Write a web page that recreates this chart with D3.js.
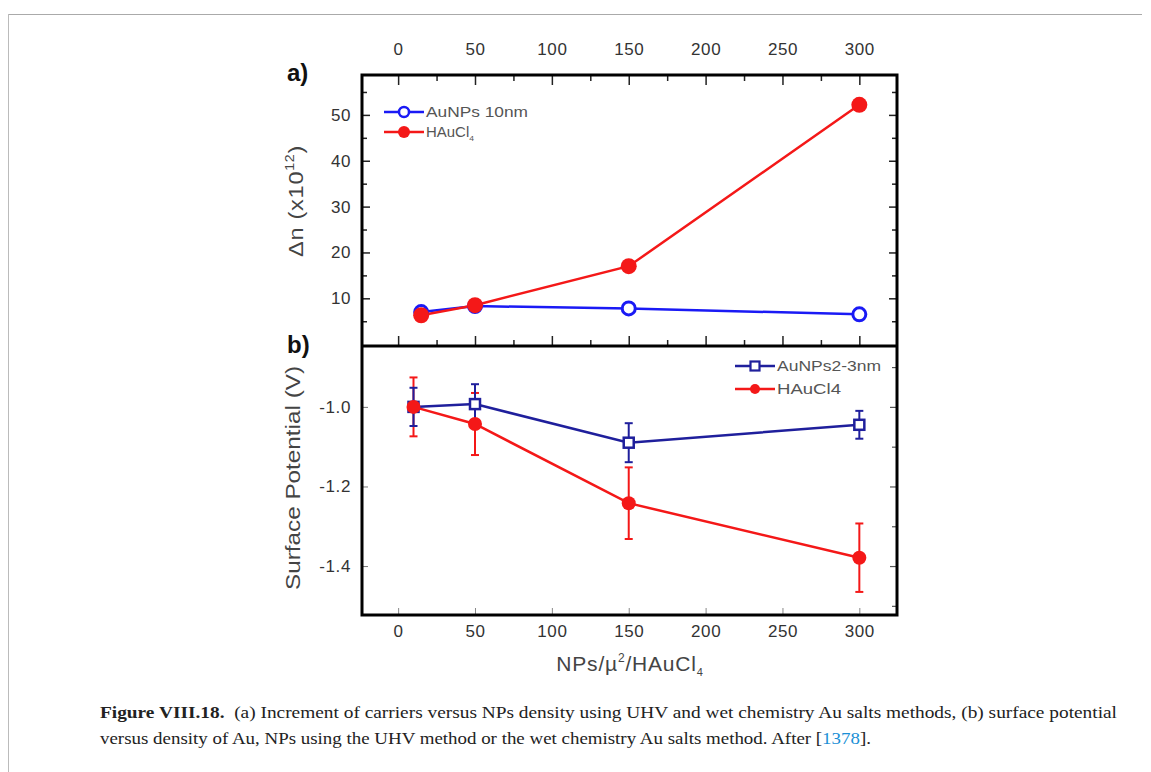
<!DOCTYPE html>
<html><head><meta charset="utf-8">
<script src="https://cdn.jsdelivr.net/npm/d3@7/dist/d3.min.js"></script>
<style>body{margin:0;background:#fff}svg{display:block}</style>
</head><body>
<svg id="c" width="1151" height="772"></svg>
<script>
// ---- data ----
const xTop = [15, 50, 150, 300];
const auNP10 = [7.0, 8.3, 7.8, 6.5];
const hauTop = [6.3, 8.5, 17.0, 52.2];
const xBot = [10, 50, 150, 300];
const auNP23 = [-1.0, -0.993, -1.09, -1.045];
const auNP23Err = [0.048, 0.05, 0.049, 0.035];
const hauBot = [-1.0, -1.043, -1.242, -1.379];
const hauBotErr = [0.074, 0.078, 0.09, 0.086];
const xTicks = [0, 50, 100, 150, 200, 250, 300];
const yTopTicks = [10, 20, 30, 40, 50];
const yBotTicks = [-1.0, -1.2, -1.4];

const svg = d3.select("#c");
const L = 362, R = 897, T = 75, M = 346, B = 615;
const x = d3.scaleLinear().domain([-23.5, 324.5]).range([L, R]);
const yT = d3.scaleLinear().domain([-0.4, 58.7]).range([M, T]);
const yB = d3.scaleLinear().domain([-1.523, -0.847]).range([B, M]);
const font = "Liberation Sans, Arial, sans-serif";
const blueT = "#1a1af5", blueB = "#1f1f9c", red = "#f41818", tc = "#333";

// outer page frame
svg.append("line").attr("x1", 8).attr("x2", 1142).attr("y1", 14.5).attr("y2", 14.5).attr("stroke", "#aaa");
svg.append("line").attr("x1", 8.5).attr("x2", 8.5).attr("y1", 14).attr("y2", 772).attr("stroke", "#bbb");

function ax(gen, tx, ty) {
  const g = svg.append("g").attr("transform", `translate(${tx},${ty})`).call(gen);
  g.select(".domain").remove();
  g.selectAll("text").attr("font-family", font).attr("font-size", 17).attr("letter-spacing", 0.6).attr("fill", tc);
  g.selectAll("line").attr("stroke", "#222").attr("stroke-width", 1.5);
  return g;
}
const minorX = d3.range(-25, 326, 25).filter(v => v > -23 && v < 324 && v % 50 !== 0);
ax(d3.axisTop(x).tickValues(xTicks).tickSize(-10).tickPadding(20).tickFormat(d3.format("d")), 0, T);
ax(d3.axisTop(x).tickValues(minorX).tickSize(-6).tickFormat(""), 0, T);
ax(d3.axisTop(x).tickValues(xTicks).tickSize(10).tickFormat(""), 0, M);
ax(d3.axisTop(x).tickValues(minorX).tickSize(6).tickFormat(""), 0, M);
const gb = ax(d3.axisBottom(x).tickValues(xTicks).tickSize(-7).tickPadding(10).tickFormat(d3.format("d")), 0, B);
gb.selectAll("line").attr("stroke", "#888").attr("stroke-width", 1);
const minorYT = [5, 15, 25, 35, 45, 55];
ax(d3.axisLeft(yT).tickValues(yTopTicks).tickSize(-8).tickPadding(11).tickFormat(d3.format("d")), L, 0);
ax(d3.axisLeft(yT).tickValues(minorYT).tickSize(-5).tickFormat(""), L, 0);
ax(d3.axisRight(yT).tickValues(yTopTicks).tickSize(-8).tickFormat(""), R, 0);
ax(d3.axisRight(yT).tickValues(minorYT).tickSize(-5).tickFormat(""), R, 0);
ax(d3.axisLeft(yB).tickValues(yBotTicks).tickSize(-6).tickPadding(11).tickFormat(d3.format(".1f")), L, 0)
  .selectAll("line").attr("stroke", "#777").attr("stroke-width", 1);
const minorYB = [-0.9, -1.1, -1.3, -1.5];
ax(d3.axisRight(yB).tickValues(yBotTicks).tickSize(-7).tickFormat(""), R, 0).selectAll("line").attr("stroke", "#555").attr("stroke-width", 1.2);
ax(d3.axisRight(yB).tickValues(minorYB).tickSize(-5).tickFormat(""), R, 0).selectAll("line").attr("stroke", "#555").attr("stroke-width", 1.2);
svg.selectAll("text").each(function(){ const t=d3.select(this); t.text(t.text().replace("\u2212","-")); });

// frames
const fr = svg.append("g").attr("fill", "none").attr("stroke", "#000").attr("stroke-width", 3);
fr.append("rect").attr("x", L).attr("y", T).attr("width", R - L).attr("height", B - T);
fr.append("line").attr("x1", L).attr("x2", R).attr("y1", M).attr("y2", M);

// ---- top panel data ----
const lineT = d3.line().x(d => x(d[0])).y(d => yT(d[1]));
const lineB = d3.line().x(d => x(d[0])).y(d => yB(d[1]));
const topBlue = xTop.map((v, i) => [v, auNP10[i]]);
const topRed = xTop.map((v, i) => [v, hauTop[i]]);
svg.append("path").attr("d", lineT(topBlue)).attr("fill", "none").attr("stroke", blueT).attr("stroke-width", 2.5);
svg.append("path").attr("d", lineT(topRed)).attr("fill", "none").attr("stroke", red).attr("stroke-width", 2.5);
svg.selectAll(".cb").data(topBlue).join("circle").attr("cx", d => x(d[0])).attr("cy", d => yT(d[1]))
  .attr("r", 6.5).attr("fill", "#fff").attr("stroke", blueT).attr("stroke-width", 3);
svg.selectAll(".cr").data(topRed).join("circle").attr("cx", d => x(d[0])).attr("cy", d => yT(d[1]))
  .attr("r", 8).attr("fill", red);

// ---- bottom panel data ----
const botBlue = xBot.map((v, i) => [v, auNP23[i], auNP23Err[i]]);
const botRed = xBot.map((v, i) => [v, hauBot[i], hauBotErr[i]]);
function errBars(data, col, w) {
  const g = svg.append("g").attr("stroke", col).attr("stroke-width", 2);
  data.forEach(d => {
    const cx = x(d[0]), y1 = yB(d[1] + d[2]), y2 = yB(d[1] - d[2]);
    g.append("line").attr("x1", cx).attr("x2", cx).attr("y1", y1).attr("y2", y2);
    g.append("line").attr("x1", cx - w).attr("x2", cx + w).attr("y1", y1).attr("y2", y1);
    g.append("line").attr("x1", cx - w).attr("x2", cx + w).attr("y1", y2).attr("y2", y2);
  });
}
svg.append("path").attr("d", lineB(botRed)).attr("fill", "none").attr("stroke", red).attr("stroke-width", 2.5);
errBars(botRed, red, 4);
svg.append("path").attr("d", lineB(botBlue)).attr("fill", "none").attr("stroke", blueB).attr("stroke-width", 2.5);
errBars(botBlue, blueB, 4);
svg.selectAll(".sb").data(botBlue).join("rect").attr("x", d => x(d[0]) - 5).attr("y", d => yB(d[1]) - 5)
  .attr("width", 10).attr("height", 10).attr("fill", "#fff").attr("stroke", blueB).attr("stroke-width", 2.5);
svg.selectAll(".sr").data(botRed).join("circle").attr("cx", d => x(d[0])).attr("cy", d => yB(d[1]))
  .attr("r", 7).attr("fill", red);

// ---- legends ----
function legend(lx, ly, col, marker, label, sub, len) {
  svg.append("line").attr("x1", lx).attr("x2", lx + 40).attr("y1", ly).attr("y2", ly).attr("stroke", col).attr("stroke-width", 2.5);
  const cx = lx + 20;
  if (marker === "open") svg.append("circle").attr("cx", cx).attr("cy", ly).attr("r", 5).attr("fill", "#fff").attr("stroke", col).attr("stroke-width", 2.5);
  if (marker === "fill") svg.append("circle").attr("cx", cx).attr("cy", ly).attr("r", 6).attr("fill", col);
  if (marker === "fillS") svg.append("circle").attr("cx", cx).attr("cy", ly).attr("r", 5).attr("fill", col);
  if (marker === "sq") svg.append("rect").attr("x", cx - 4.5).attr("y", ly - 4.5).attr("width", 9).attr("height", 9).attr("fill", "#fff").attr("stroke", col).attr("stroke-width", 2.2);
  const t = svg.append("text").attr("x", lx + 42).attr("y", ly + 5).attr("font-family", font).attr("font-size", 14).attr("fill", "#555")
    .attr("textLength", len).attr("lengthAdjust", "spacingAndGlyphs").text(label);
  if (sub) t.append("tspan").attr("font-size", 8).attr("dy", 4).text(sub);
}
legend(384, 112, blueT, "open", "AuNPs 10nm", null, 102);
legend(384, 132, red, "fill", "HAuCl", "4", 48);
legend(735, 366, blueB, "sq", "AuNPs2-3nm", null, 104);
legend(735, 389, red, "fillS", "HAuCl4", null, 64);

// ---- labels ----
svg.append("text").attr("x", 287).attr("y", 81).attr("font-family", font).attr("font-weight", "bold").attr("font-size", 24).attr("fill", "#111").text("a)");
svg.append("text").attr("x", 287).attr("y", 353).attr("font-family", font).attr("font-weight", "bold").attr("font-size", 24).attr("fill", "#111").text("b)");
const yl1 = svg.append("text").attr("transform", "translate(303,201) rotate(-90) scale(1.18,1)").attr("text-anchor", "middle")
  .attr("font-family", font).attr("font-size", 20).attr("fill", "#444").attr("letter-spacing", 0.6);
yl1.append("tspan").text("\u0394n (x10");
yl1.append("tspan").attr("font-size", 12).attr("dy", -9).text("12");
yl1.append("tspan").attr("dy", 9).text(")");
svg.append("text").attr("transform", "translate(300,478) rotate(-90)").attr("text-anchor", "middle")
  .attr("font-family", font).attr("font-size", 21).attr("fill", "#444")
  .attr("textLength", 224).attr("lengthAdjust", "spacingAndGlyphs").text("Surface Potential (V)");
const xl = svg.append("text").attr("x", 630).attr("y", 671).attr("text-anchor", "middle")
  .attr("font-family", font).attr("font-size", 21).attr("fill", "#444").attr("letter-spacing", 0.8);
xl.append("tspan").text("NPs/\u00b5");
xl.append("tspan").attr("font-size", 12).attr("dy", -9).text("2");
xl.append("tspan").attr("dy", 9).text("/HAuCl");
xl.append("tspan").attr("font-size", 11).attr("dy", 5).text("4");

// ---- caption ----
const serif = "Liberation Serif, Times New Roman, serif";
const c1 = svg.append("text").attr("x", 100).attr("y", 718).attr("font-family", serif).attr("font-size", 17.5).attr("fill", "#222")
  .attr("textLength", 1017).attr("lengthAdjust", "spacingAndGlyphs");
c1.append("tspan").attr("font-weight", "bold").text("Figure VIII.18.");
c1.append("tspan").text("\u2002(a) Increment of carriers versus NPs density using UHV and wet chemistry Au salts methods, (b) surface potential");
const c2 = svg.append("text").attr("x", 100).attr("y", 744).attr("font-family", serif).attr("font-size", 17.5).attr("fill", "#222")
  .attr("textLength", 771).attr("lengthAdjust", "spacingAndGlyphs");
c2.append("tspan").text("versus density of Au, NPs using the UHV method or the wet chemistry Au salts method. After [");
c2.append("tspan").attr("fill", "#1a8fd6").text("1378");
c2.append("tspan").text("].");
</script>
</body></html>
